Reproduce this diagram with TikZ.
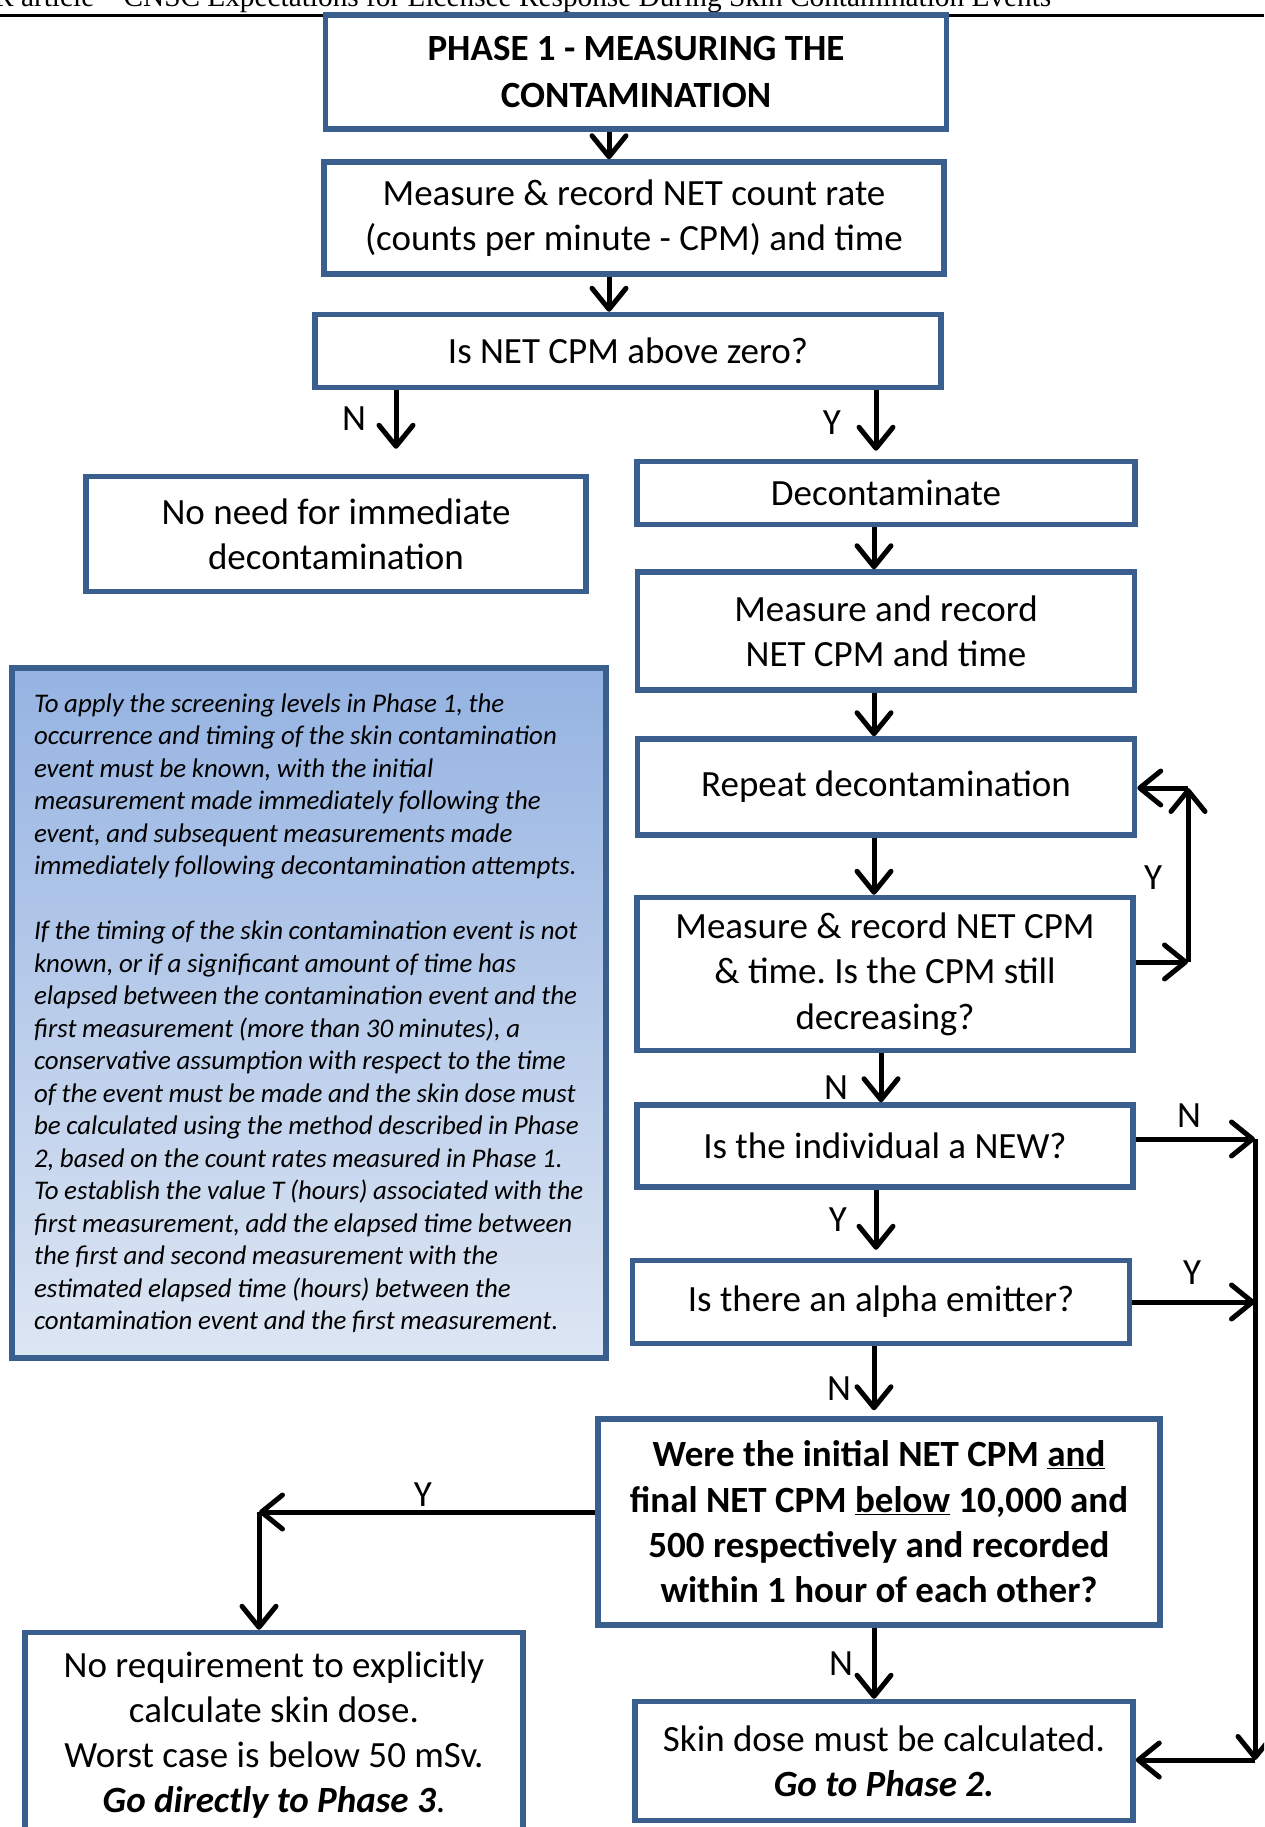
\documentclass[tikz,border=0pt]{standalone}
\usepackage{fontspec}
\setmainfont{Carlito}
\newfontfamily\headfont{Liberation Serif}
\usetikzlibrary{arrows.meta,calc}
\definecolor{boxblue}{RGB}{58,95,143}
\definecolor{noteTop}{RGB}{149,179,226}
\definecolor{noteBot}{RGB}{221,230,243}
\frenchspacing

\begin{document}
\begin{tikzpicture}[x=1pt,y=-1pt,
  box/.style={draw=boxblue,line width=5.5pt,fill=white,align=center,inner sep=0pt,font=\fontsize{37}{45}\selectfont},
  flow/.style={line width=5pt,-{Straight Barb[length=21pt,width=34pt,round]}},
  lbl/.style={inner sep=0pt,font=\fontsize{37}{45}\selectfont}]
\path[use as bounding box] (0,0) rectangle (1264,1827);
\clip (0,0) rectangle (1264,1827);

\node[anchor=base west,inner sep=0pt,font=\headfont\fontsize{29.3}{31}\selectfont] (runhead) at (-6,7) {R article – CNSC Expectations for Licensee Response During Skin Contamination Events};
\draw[line width=2.5pt] (0,15.5) -- (1264,15.5);

\node[box,minimum width=621,minimum height=114,font=\fontsize{37}{47}\selectfont\bfseries] (phase) at (636,72) {PHASE 1 - MEASURING THE\\CONTAMINATION};
\node[box,minimum width=620,minimum height=112] (measure) at (634,218) {Measure \& record NET count rate\\(counts per minute - CPM) and time};
\node[box,minimum width=626,minimum height=73] (nonzero) at (628,351) {Is NET CPM above zero?};
\node[box,minimum width=500,minimum height=115] (noneed) at (336,534) {No need for immediate\\decontamination};
\node[box,minimum width=498,minimum height=63] (decon) at (886,493) {Decontaminate};
\node[box,minimum width=497,minimum height=118] (measuretwo) at (886,631) {Measure and record\\NET CPM and time};
\node[box,minimum width=497,minimum height=96] (repeat) at (886,787) {Repeat decontamination};
\node[box,minimum width=496,minimum height=153,font=\fontsize{37}{45.5}\selectfont] (decreasing) at (885,974) {Measure \& record NET CPM\\\& time. Is the CPM still\\decreasing?};
\node[box,minimum width=496,minimum height=82] (newind) at (885,1146) {Is the individual a NEW?};
\node[box,minimum width=497,minimum height=83] (alpha) at (881,1302) {Is there an alpha emitter?};
\node[box,minimum width=562,minimum height=206,font=\fontsize{37}{45.4}\selectfont\bfseries] (screening) at (879,1522) {Were the initial NET CPM \underline{and}\\final NET CPM \underline{below} 10,000 and\\500 respectively and recorded\\within 1 hour of each other?};
\node[box,minimum width=498,minimum height=205] (noreq) at (274,1735) {No requirement to explicitly\\calculate skin dose.\\Worst case is below 50 mSv.\\\textbf{\textit{Go directly to Phase 3}}.};
\node[box,minimum width=498,minimum height=119] (skindose) at (884,1761) {Skin dose must be calculated.\\\textbf{\textit{Go to Phase 2.}}};
\node[box,top color=noteTop,bottom color=noteBot,text width=550,inner xsep=22,minimum height=690,align=left,font=\fontsize{26.9}{32.5}\selectfont\itshape] (note) at (309,1013) {\spaceskip=5.6pt plus 2pt minus 1pt\rightskip=0pt plus 1fil minus 80pt To apply the screening levels in Phase 1, the\\occurrence and timing of the skin contamination\\event must be known, with the initial\\measurement made immediately following the\\event, and subsequent measurements made\\immediately following decontamination attempts.\\[32.5pt]If the timing of the skin contamination event is not\\known, or if a significant amount of time has\\elapsed between the contamination event and the\\first measurement (more than 30 minutes), a\\conservative assumption with respect to the time\\of the event must be made and the skin dose must\\be calculated using the method described in Phase\\2, based on the count rates measured in Phase 1.\\To establish the value T (hours) associated with the\\first measurement, add the elapsed time between\\the first and second measurement with the\\estimated elapsed time (hours) between the\\contamination event and the first measurement.};

\coordinate (loopB) at (1188,962);
\coordinate (loopT) at (1188,788);
\coordinate (sideN) at (1255,1139);
\coordinate (sideY) at (1255,1302);
\coordinate (sideB) at (1255,1760);
\coordinate (leftY) at (259,1512);

\draw[flow] (609,0 |- phase.south) -- (609,0 |- measure.north);
\draw[flow] (609,0 |- measure.south) -- (609,0 |- nonzero.north);
\draw[flow,shorten >=25pt] (396,0 |- nonzero.south) -- (396,0 |- noneed.north);
\draw[flow,shorten >=8pt] (876,0 |- nonzero.south) -- (876,0 |- decon.north);
\draw[flow] (874,0 |- decon.south) -- (874,0 |- measuretwo.north);
\draw[flow] (874,0 |- measuretwo.south) -- (874,0 |- repeat.north);
\draw[flow] (874,0 |- repeat.south) -- (874,0 |- decreasing.north);
\draw[flow] (loopB -| decreasing.east) -- (loopB);
\draw[flow] (loopB) -- (loopT);
\draw[flow] (loopT) -- (loopT -| repeat.east);
\draw[flow] (881,0 |- decreasing.south) -- (881,0 |- newind.north);
\draw[flow] (sideN -| newind.east) -- (sideN);
\draw[flow,shorten >=8pt] (876,0 |- newind.south) -- (876,0 |- alpha.north);
\draw[flow] (sideY -| alpha.east) -- (sideY);
\draw[flow] (sideN) -- (sideB);
\draw[flow] (sideB) -- (sideB -| skindose.east);
\draw[flow,shorten >=6pt] (874,0 |- alpha.south) -- (874,0 |- screening.north);
\draw[flow] (leftY -| screening.west) -- (leftY);
\draw[flow] (leftY) -- (leftY |- noreq.north);
\draw[flow] (874,0 |- screening.south) -- (874,0 |- skindose.north);

\node[lbl] (lblN1) at (354,419) {N};
\node[lbl] (lblY1) at (832,423) {Y};
\node[lbl] (lblY2) at (1153,878) {Y};
\node[lbl] (lblN2) at (836,1088) {N};
\node[lbl] (lblN3) at (1189,1116) {N};
\node[lbl] (lblY3) at (838,1220) {Y};
\node[lbl] (lblY4) at (1192,1273) {Y};
\node[lbl] (lblN4) at (839,1389) {N};
\node[lbl] (lblY5) at (423,1495) {Y};
\node[lbl] (lblN5) at (841,1664) {N};
\end{tikzpicture}
\end{document}
